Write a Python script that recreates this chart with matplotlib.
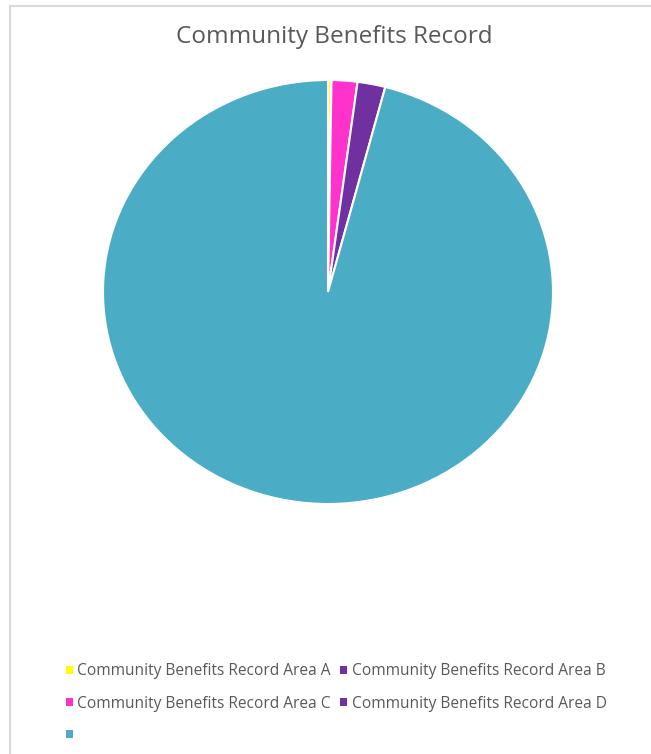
import matplotlib
matplotlib.use("Agg")
import matplotlib.pyplot as plt
from matplotlib.patches import Patch
from matplotlib.lines import Line2D

# data (percent of total, clockwise from 12 o'clock)
labels = ["Community Benefits Record Area A", "Community Benefits Record Area B",
          "Community Benefits Record Area C", "Community Benefits Record Area D", ""]
values = [0.25, 0.0, 1.85, 2.0, 95.9]
colors = ["#FFFF00", "#7030A0", "#FF33CC", "#7030A0", "#4BACC6"]

W, H = 651, 754
fig = plt.figure(figsize=(W/100, H/100), dpi=100)
plt.rcParams['font.family'] = ['Open Sans', 'DejaVu Sans']

# chart border (left and top are visible)
fig.add_artist(Line2D([9.5/W, 9.5/W], [0, 1 - 5.5/H], color="#d9d9d9", lw=1.5))
fig.add_artist(Line2D([9.5/W, 1], [1 - 5.5/H, 1 - 5.5/H], color="#d9d9d9", lw=1.5))

# pie axes: ellipse from x 103..553, y 80..504
ax = fig.add_axes([103/W, (H-504)/H, 450/W, 424/H])
ax.pie(values, colors=colors, startangle=90, counterclock=False,
       wedgeprops=dict(edgecolor="white", linewidth=1.5))
ax.set_xlim(-1.0, 1.0)
ax.set_ylim(-1.0, 1.0)
ax.set_aspect("auto")

fig.text(334/W, 1 - 37/H, "Community Benefits Record", ha="center", va="center",
         fontsize=17.5, color="#595959")

# legend laid out row-wise: A B / C D / blank
handles = [Patch(facecolor=c, edgecolor="none") for c in colors]
order = [0, 2, 4, 1, 3]
fig.legend([handles[i] for i in order], [labels[i] for i in order],
           ncol=2, loc="upper left", bbox_to_anchor=(60/W, 1 - 657/H),
           frameon=False, fontsize=11.2, labelcolor="#595959",
           handlelength=0.42, handleheight=0.42, handletextpad=0.3,
           columnspacing=0.6, labelspacing=1.05, borderaxespad=0)

fig.savefig("out.png", dpi=100)
